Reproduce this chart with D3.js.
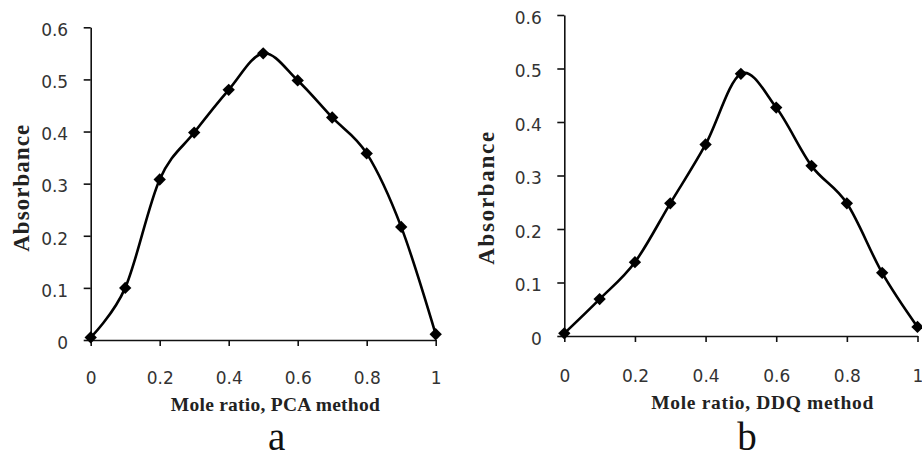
<!DOCTYPE html>
<html>
<head>
<meta charset="utf-8">
<script src="https://cdn.jsdelivr.net/npm/d3@7"></script>
<style>
  body { margin: 0; background: #fff; }
  .tick text { font-family: "DejaVu Sans", Verdana, sans-serif; font-size: 17px; fill: #333; }
  .title { font-family: "Liberation Serif", "Times New Roman", serif; font-weight: bold; font-size: 19.5px; fill: #222; }
  .ytitle { font-size: 23px; }
  .panel-label { font-family: "Liberation Serif", "Times New Roman", serif; font-size: 39px; fill: #111; }
</style>
</head>
<body>
<div id="chart-area"></div>
<script>
// mole ratio on the x axis, same for both plots
var moleRatio = [0, 0.1, 0.2, 0.3, 0.4, 0.5, 0.6, 0.7, 0.8, 0.9, 1.0];
var absorbancePCA = [0.005, 0.10, 0.308, 0.398, 0.48, 0.55, 0.498, 0.427, 0.358, 0.217, 0.011];
var absorbanceDDQ = [0.005, 0.069, 0.138, 0.248, 0.358, 0.49, 0.427, 0.318, 0.248, 0.118, 0.017];
var xTicks = [0, 0.2, 0.4, 0.6, 0.8, 1];
var yTicks = [0, 0.1, 0.2, 0.3, 0.4, 0.5, 0.6];

var svg = d3.select("#chart-area")
    .append("svg")
    .attr("width", 922)
    .attr("height", 458);

var fmt = d3.format("~g");

// where each panel sits on the page
var panels = [
    { values: absorbancePCA, xTitle: "Mole ratio, PCA method", label: "a",
      left: 90.7, right: 435.7, bottom: 340, top: 27.3, xLabelPad: 26,
      xTitleX: 275.3, xTitleY: 410.7, xTitleLen: 209,
      yTitleX: 28.5, yTitleY: 188.3, yTitleLen: 127,
      labelX: 276.7, labelY: 450 },
    { values: absorbanceDDQ, xTitle: "Mole ratio, DDQ method", label: "b",
      left: 564.3, right: 917.5, bottom: 336, top: 15, xLabelPad: 27.5,
      xTitleX: 762.3, xTitleY: 409.3, xTitleLen: 222,
      yTitleX: 494.3, yTitleY: 198.3, yTitleLen: 133,
      labelX: 747, labelY: 450 }
];

panels.forEach(function(p) {
    var x = d3.scaleLinear().domain([0, 1]).range([p.left, p.right]);
    var y = d3.scaleLinear().domain([0, 0.6]).range([p.bottom, p.top]);

    var g = svg.append("g");

    var yAxis = g.append("g")
        .attr("transform", "translate(" + p.left + ",0)")
        .call(d3.axisLeft(y).tickValues(yTicks).tickFormat(fmt)
            .tickSize(7).tickSizeOuter(0).tickPadding(15.5));
    yAxis.selectAll("text").attr("dy", "0.49em");

    var xAxis = g.append("g")
        .attr("transform", "translate(0," + p.bottom + ")")
        .call(d3.axisBottom(x).tickValues(xTicks).tickFormat(fmt)
            .tickSize(6).tickSizeOuter(0).tickPadding(p.xLabelPad));

    g.selectAll(".domain, .tick line")
        .attr("stroke", "#111")
        .attr("stroke-width", 1.6);

    var pts = moleRatio.map(function(m, i) { return [m, p.values[i]]; });

    var line = d3.line()
        .x(function(d) { return x(d[0]); })
        .y(function(d) { return y(d[1]); })
        .curve(d3.curveCardinal.tension(0));

    g.append("path")
        .datum(pts)
        .attr("d", line)
        .attr("fill", "none")
        .attr("stroke", "#000")
        .attr("stroke-width", 2.6);

    g.selectAll(".marker")
        .data(pts)
        .enter()
        .append("path")
        .attr("class", "marker")
        .attr("d", d3.symbol().type(d3.symbolSquare).size(76))
        .attr("transform", function(d) {
            return "translate(" + x(d[0]) + "," + y(d[1]) + ") rotate(45)";
        })
        .attr("fill", "#000");

    g.append("text")
        .attr("class", "title")
        .attr("x", p.xTitleX - p.xTitleLen / 2)
        .attr("y", p.xTitleY)
        .attr("textLength", p.xTitleLen)
        .attr("lengthAdjust", "spacing")
        .text(p.xTitle);

    g.append("text")
        .attr("class", "title ytitle")
        .attr("transform", "translate(" + p.yTitleX + "," + (p.yTitleY + p.yTitleLen / 2) + ") rotate(-90)")
        .attr("textLength", p.yTitleLen)
        .attr("lengthAdjust", "spacing")
        .text("Absorbance");

    g.append("text")
        .attr("class", "panel-label")
        .attr("x", p.labelX)
        .attr("y", p.labelY)
        .attr("text-anchor", "middle")
        .text(p.label);
});
</script>
</body>
</html>
